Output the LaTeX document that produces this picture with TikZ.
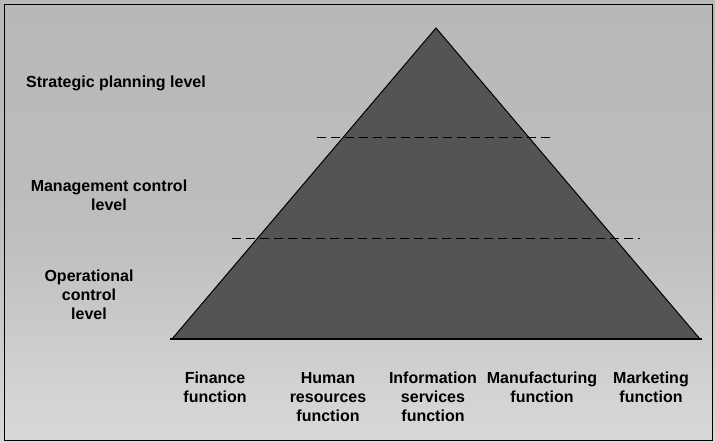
\documentclass[tikz,border=0pt]{standalone}
\usepackage{fontspec}
\setmainfont{Liberation Sans}
\usetikzlibrary{calc}
\definecolor{paper}{HTML}{B8B8B8}
\definecolor{paperlight}{HTML}{D9D9D9}
\definecolor{pyramid}{HTML}{545454}
\tikzset{
  lbl/.style={font=\bfseries\fontsize{16}{19}\selectfont, align=center, inner sep=0pt, text=black},
  levelline/.style={black, line width=0.9pt, dash pattern=on 9pt off 5pt},
}
\begin{document}
\begin{tikzpicture}[x=1pt, y=-1pt]
  % page and frame
  \useasboundingbox (0,0) rectangle (715,443);
  \shade[top color=paper, bottom color=paperlight, middle color=paper!85!paperlight] (0,0) rectangle (715,443);
  \draw[black, line width=0.8pt] (4,4) rectangle (712,440);

  % the pyramid
  \coordinate (apex) at (436,28);
  \coordinate (bl) at (172,339);
  \coordinate (br) at (700,339);
  \fill[pyramid] (apex) -- (bl) -- (br) -- cycle;
  \draw[black, line width=1pt] (bl) -- (apex) -- (br);
  \draw[black, line width=2pt] ($(bl)+(-2,0)$) -- ($(br)+(2,0)$);

  % level boundaries
  \coordinate (u1) at (317,137);
  \coordinate (u2) at (555,137);
  \coordinate (m1) at (232,238);
  \coordinate (m2) at (640,238);
  \draw[levelline] (u1) -- (u2);
  \draw[levelline] (m1) -- (m2);

  % level labels
  \node[lbl] (strat) at (116,83) {Strategic planning level};
  \node[lbl] (mgmt) at (109,195) {Management control\\level};
  \node[lbl] (oper) at (89,295) {Operational\\control\\level};

  % function labels
  \node[lbl, anchor=north] (fin) at (215,372) {Finance\\function};
  \node[lbl, anchor=north] (hr) at (328,372) {Human\\resources\\function};
  \node[lbl, anchor=north] (is) at (433,372) {Information\\services\\function};
  \node[lbl, anchor=north] (mfg) at (542,372) {Manufacturing\\function};
  \node[lbl, anchor=north] (mkt) at (651,372) {Marketing\\function};
\end{tikzpicture}
\end{document}
